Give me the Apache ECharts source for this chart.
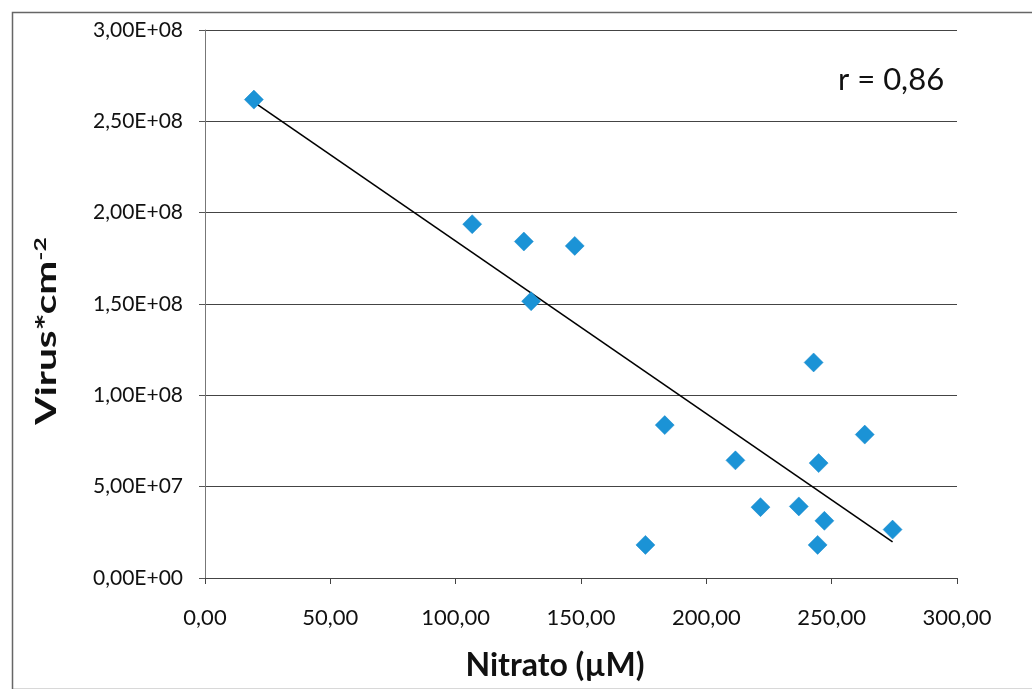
<!DOCTYPE html>
<html>
<head>
<meta charset="utf-8">
<style>html,body{margin:0;padding:0;background:#fff;}#c{width:1032px;height:689px;}</style>
<script src="https://cdn.jsdelivr.net/npm/echarts@6/dist/echarts.min.js"></script>
</head>
<body>
<div id="c"></div>
<script>
const nitrato = [19.5, 106.6, 127.2, 147.5, 130.1, 242.8, 183.4, 263.2, 211.6, 244.8, 221.6, 236.9, 247.1, 274.3, 175.7, 244.4];
const virus = [2.619e8, 1.937e8, 1.842e8, 1.818e8, 1.515e8, 1.18e8, 8.37e7, 7.85e7, 6.44e7, 6.29e7, 3.88e7, 3.92e7, 3.13e7, 2.65e7, 1.81e7, 1.81e7];
const trendX = [19.5, 274.3];
const trendY = [2.605e8, 1.98e7];
const xTitle = 'Nitrato (µM)';
const yTitle = 'Virus*cm';
const yTitleSup = '-2';
const rText = 'r = 0,86';

const font = 'Lato, "Open Sans", sans-serif';
function fmtX(v){ return v.toFixed(2).replace('.', ','); }
function fmtY(v){
  if (v === 0) return '0,00E+00';
  const e = Math.floor(Math.log10(v));
  const m = v / Math.pow(10, e);
  return m.toFixed(2).replace('.', ',') + 'E+' + String(e).padStart(2, '0');
}
const chart = echarts.init(document.getElementById('c'), null, {renderer: 'canvas'});
chart.setOption({
  backgroundColor: '#fff',
  animation: false,
  grid: {left: 205, right: 75, top: 30, bottom: 111},
  xAxis: {
    type: 'value', min: 0, max: 300, interval: 50,
    axisLine: {show: true, lineStyle: {color: '#444', width: 1}},
    axisTick: {show: true, inside: false, length: 6, lineStyle: {color: '#444'}},
    splitLine: {show: false},
    axisLabel: {formatter: fmtX, color: '#111', fontFamily: font, fontSize: 22, margin: 29}
  },
  yAxis: {
    type: 'value', min: 0, max: 3e8, interval: 5e7,
    axisLine: {show: true, lineStyle: {color: '#777', width: 1}},
    axisTick: {show: true, inside: false, length: 6, lineStyle: {color: '#555'}},
    splitLine: {show: true, lineStyle: {color: '#444', width: 1}},
    axisLabel: {formatter: fmtY, color: '#111', fontFamily: font, fontSize: 21, margin: 22}
  },
  graphic: [
    {type: 'rect', left: 10, top: 10, shape: {width: 1040, height: 677}, style: {fill: 'none', stroke: '#666', lineWidth: 1.5}, silent: true},
    {type: 'text', left: 838, top: 64, style: {text: rText, fontFamily: font, fontSize: 31, fill: '#111'}},
    {
      type: 'text', x: 555, y: 666,
      style: {text: xTitle, align: 'center', verticalAlign: 'middle', fontFamily: font, fontWeight: 'bold', fontSize: 32, fill: '#111'}
    },
    {
      type: 'text', x: 47, y: 331, rotation: Math.PI / 2, scaleX: 1.45,
      style: {
        text: '{b|' + yTitle + '}{s|' + yTitleSup + '}',
        align: 'center', verticalAlign: 'middle',
        rich: {
          b: {fontFamily: font, fontWeight: 'bold', fontSize: 28, fill: '#111'},
          s: {fontFamily: font, fontWeight: 'bold', fontSize: 17, fill: '#111', verticalAlign: 'top', padding: [0, 0, 12, 0]}
        }
      }
    }
  ],
  series: [
    {
      type: 'line', data: trendX.map((x, i) => [x, trendY[i]]),
      showSymbol: false, symbol: 'none', lineStyle: {color: '#000', width: 1.6}, z: 2
    },
    {
      type: 'scatter', data: nitrato.map((x, i) => [x, virus[i]]),
      symbol: 'diamond', symbolSize: [19, 19],
      itemStyle: {color: '#1b93d6', borderColor: '#1788cc', borderWidth: 0.5, opacity: 1}, z: 3
    }
  ]
});
</script>
</body>
</html>
